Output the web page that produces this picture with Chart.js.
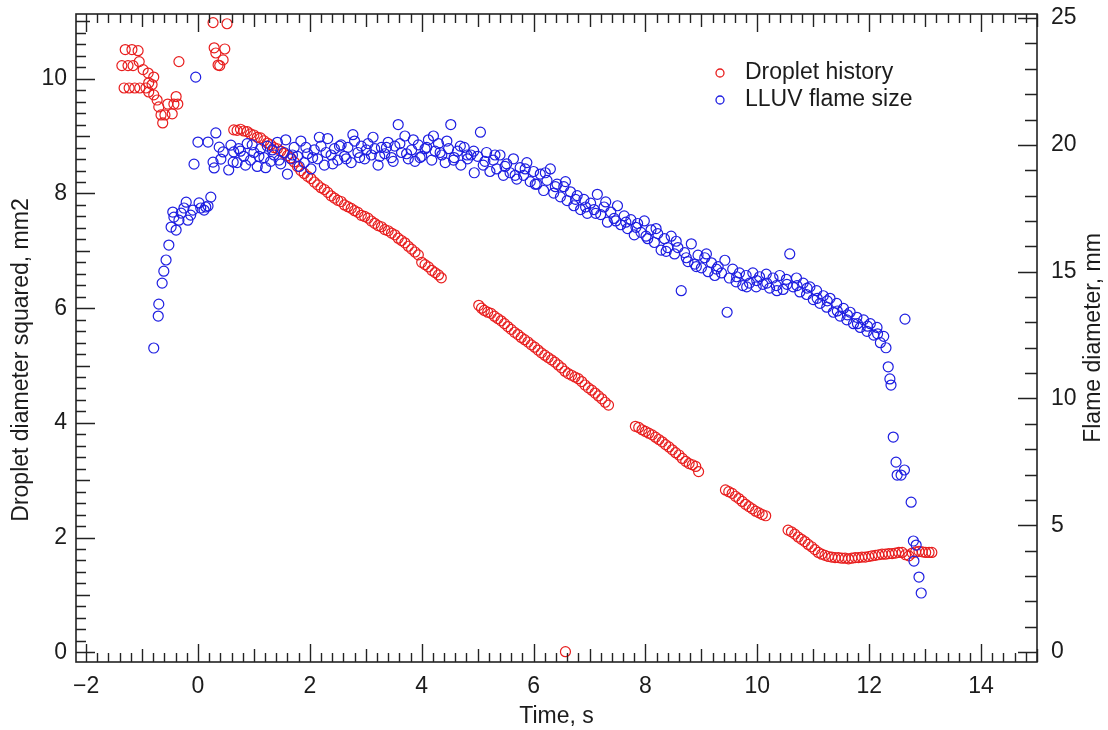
<!DOCTYPE html>
<html lang="en">
<head>
<meta charset="UTF-8">
<title>Droplet history and LLUV flame size</title>
<script src="https://cdn.jsdelivr.net/npm/chart.js"></script>
<style>
  html, body { margin: 0; padding: 0; background: #fff; }
  #wrap { width: 1108px; height: 730px; }
</style>
</head>
<body>
<div id="wrap"><canvas id="graphCanvas" width="1108" height="730"></canvas></div>
<script>
// ---- data ----
// droplet diameter squared (mm2) vs time (s)
const dropletTime = [
  // ignition / scatter
  -1.36, -1.32, -1.30, -1.25, -1.23, -1.18, -1.16, -1.13, -1.07, -1.05,
  -1.04, -0.98, -0.93, -0.89, -0.88, -0.88, -0.82, -0.79, -0.79, -0.73,
  -0.70, -0.66, -0.63, -0.59, -0.54, -0.46, -0.43, -0.39, -0.36, -0.34,
  0.27, 0.29, 0.32, 0.36, 0.39, 0.45, 0.48, 0.52,
  // burning
  0.64, 0.70, 0.76, 0.82, 0.88, 0.94, 1.00, 1.06, 1.12, 1.18,
  1.24, 1.30, 1.36, 1.42, 1.48, 1.54, 1.60, 1.66, 1.72, 1.78,
  1.84, 1.90, 1.96, 2.02, 2.08, 2.14, 2.20, 2.26, 2.32, 2.38,
  2.44, 2.50, 2.56, 2.62, 2.68, 2.74, 2.80, 2.86, 2.92, 2.98,
  3.04, 3.10, 3.16, 3.22, 3.28, 3.34, 3.40, 3.46, 3.52, 3.58,
  3.64, 3.70, 3.76, 3.82, 3.88, 3.94, 4.00, 4.06, 4.12, 4.18,
  4.24, 4.30, 4.35,
  5.02, 5.07, 5.12, 5.18, 5.24, 5.30, 5.36, 5.42, 5.48, 5.54,
  5.60, 5.66, 5.72, 5.78, 5.84, 5.90, 5.96, 6.02, 6.08, 6.14,
  6.20, 6.26, 6.32, 6.38, 6.44, 6.50, 6.56, 6.62, 6.68, 6.74,
  6.80, 6.86, 6.92, 6.98, 7.04, 7.10, 7.16, 7.22, 7.28, 7.34,
  6.57,
  7.82, 7.88, 7.94, 8.00, 8.06, 8.12, 8.18, 8.24, 8.30, 8.36,
  8.42, 8.48, 8.54, 8.60, 8.66, 8.72, 8.78, 8.84, 8.90, 8.95,
  9.43, 9.49, 9.55, 9.61, 9.67, 9.73, 9.79, 9.85, 9.91, 9.97,
  10.03, 10.09, 10.15,
  10.55, 10.61, 10.67, 10.73, 10.79, 10.85, 10.91, 10.97, 11.03, 11.09,
  11.15, 11.21, 11.27, 11.33, 11.39, 11.45, 11.51, 11.57, 11.63, 11.69,
  11.75, 11.81, 11.87, 11.93, 11.99, 12.05, 12.11, 12.17, 12.23, 12.29,
  12.35, 12.41, 12.47, 12.53, 12.59, 12.65, 12.71, 12.77, 12.83, 12.89,
  12.95, 13.01, 13.07, 13.12
];
const dropletD2 = [
  10.23, 9.84, 10.51, 10.23, 9.84, 10.51, 10.23, 9.84, 10.49, 10.30,
  9.84, 10.16, 9.84, 10.10, 9.93, 9.77, 9.90, 10.03, 9.72, 9.63,
  9.51, 9.37, 9.23, 9.37, 9.56, 9.39, 9.56, 9.69, 9.56, 10.30,
  10.98, 10.54, 10.45, 10.24, 10.23, 10.33, 10.52, 10.96,
  9.11, 9.10, 9.12, 9.09, 9.08, 9.04, 9.02, 8.98, 8.97, 8.92,
  8.88, 8.85, 8.80, 8.78, 8.74, 8.70, 8.66, 8.62, 8.55, 8.47,
  8.40, 8.35, 8.30, 8.26, 8.20, 8.15, 8.10, 8.07, 8.02, 7.96,
  7.92, 7.88, 7.86, 7.80, 7.77, 7.74, 7.70, 7.67, 7.62, 7.60,
  7.57, 7.52, 7.48, 7.44, 7.42, 7.37, 7.35, 7.31, 7.28, 7.22,
  7.18, 7.14, 7.08, 7.03, 6.98, 6.93, 6.80, 6.76, 6.72, 6.66,
  6.62, 6.58, 6.53,
  6.05, 6.00, 5.96, 5.93, 5.91, 5.86, 5.82, 5.78, 5.73, 5.68,
  5.63, 5.58, 5.54, 5.49, 5.45, 5.41, 5.36, 5.32, 5.27, 5.22,
  5.18, 5.14, 5.10, 5.06, 5.01, 4.96, 4.90, 4.86, 4.83, 4.80,
  4.77, 4.72, 4.66, 4.61, 4.57, 4.52, 4.47, 4.42, 4.36, 4.31,
  0.01,
  3.94, 3.92, 3.88, 3.85, 3.82, 3.79, 3.75, 3.71, 3.67, 3.62,
  3.58, 3.53, 3.48, 3.44, 3.38, 3.33, 3.29, 3.27, 3.24, 3.15,
  2.83, 2.80, 2.77, 2.72, 2.68, 2.63, 2.58, 2.54, 2.50, 2.46,
  2.43, 2.40, 2.38,
  2.13, 2.10, 2.06, 2.01, 1.97, 1.93, 1.88, 1.84, 1.79, 1.74,
  1.71, 1.69, 1.67, 1.66, 1.65, 1.65, 1.64, 1.64, 1.63, 1.64,
  1.65, 1.65, 1.66, 1.66, 1.67, 1.68, 1.69, 1.70, 1.71, 1.71,
  1.72, 1.72, 1.73, 1.74, 1.74, 1.70, 1.68, 1.73, 1.75, 1.76,
  1.75, 1.74, 1.74, 1.74
];

// LLUV flame diameter (mm) vs time (s)
const flameTime = [
  -0.79, -0.71, -0.70, -0.64, -0.61, -0.57, -0.52, -0.48, -0.45, -0.43,
  -0.39, -0.34, -0.30, -0.25, -0.21, -0.18, -0.13, -0.09, -0.07, -0.04,
  0.00, 0.02, 0.05, 0.11, 0.14, 0.18, 0.18, 0.23, 0.27, 0.29,
  0.32, 0.38, 0.41, 0.45, 0.55, 0.59, 0.63, 0.64,
  0.70, 0.76, 0.82, 0.88, 0.94, 1.00, 1.06, 1.12, 1.18, 1.24,
  1.30, 1.36, 1.42, 1.48, 1.54, 1.60, 1.66, 1.72, 1.78, 1.84,
  1.90, 1.96, 2.02, 2.08, 2.14, 2.20, 2.26, 2.32, 2.38, 2.44,
  2.50, 2.56, 2.62, 2.68, 2.74, 2.80, 2.86, 2.92, 2.98, 3.04,
  3.10, 3.16, 3.22, 3.28, 3.34, 3.40, 3.46, 3.52, 3.58, 3.64,
  3.70, 3.76, 3.82, 3.88, 3.94, 4.00, 4.06, 4.12, 4.18, 4.24,
  4.30, 4.36, 4.42, 4.48, 4.52, 4.58, 4.64, 4.70, 4.76, 4.82,
  4.88, 4.94, 5.00, 5.05, 5.10, 5.16, 5.22, 5.28, 5.34, 5.40,
  5.46, 5.52, 5.58, 5.64, 5.70, 5.76, 5.82, 5.88, 5.94, 6.00,
  6.06, 6.12, 6.18, 6.24, 6.30, 6.36, 6.42, 6.48, 6.54, 6.60,
  6.66, 6.72, 6.78, 6.84, 6.90, 6.96, 7.02, 7.08, 7.14, 7.20,
  7.26, 7.32, 7.38, 7.44, 7.50, 7.56, 7.62, 7.68, 7.74, 7.80,
  7.86, 7.92, 7.98, 8.04, 8.10, 8.16, 8.22, 8.28, 8.34, 8.40,
  8.46, 8.52, 8.58, 8.64, 8.70, 8.76, 8.82, 8.88, 8.94, 9.00,
  9.06, 9.12, 9.18, 9.24, 9.30, 9.36, 9.42, 9.46, 9.50, 9.56,
  9.62, 9.68, 9.74, 9.80, 9.86, 9.92, 9.98, 10.04, 10.10, 10.16,
  10.22, 10.28, 10.34, 10.40, 10.46, 10.52, 10.58, 10.64, 10.70, 10.76,
  10.82, 10.88, 10.94, 11.00, 11.06, 11.12, 11.18, 11.24, 11.30, 11.36,
  11.42, 11.48, 11.54, 11.60, 11.66, 11.72, 11.78, 11.84, 11.90, 11.96,
  12.02, 12.08, 12.14, 12.20, 12.26, 12.30,
  0.73, 0.85, 0.97, 1.09, 1.21, 1.33, 1.45, 1.57, 1.69, 1.81,
  1.93, 2.05, 2.17, 2.29, 2.41, 2.53, 2.65, 2.77, 2.89, 3.01,
  3.13, 3.25, 3.37, 3.49, 3.61, 3.73, 3.85, 3.97, 4.09, 4.21,
  4.33, 4.45, 4.57, 4.69, 4.81, 4.93, 5.13, 5.31, 5.49, 5.67,
  5.85, 6.03, 6.21, 6.39, 6.57, 6.75, 6.93, 7.11, 7.29, 7.47,
  7.65, 7.83, 8.01, 8.19, 8.37, 8.55, 8.73, 8.91, 9.09, 9.27,
  9.63, 9.81, 9.99, 10.17, 10.35, 10.53, 10.71, 10.89, 11.07, 11.25,
  11.43, 11.61, 11.79, 11.97, 12.15,
  // extinction
  12.34, 12.37, 12.39, 12.43, 12.48, 12.50, 12.57, 12.63, 12.64, 12.75,
  12.79, 12.84, 12.80, 12.89, 12.93
];
const flameDiam = [
  11.99, 13.25, 13.72, 14.55, 15.02, 15.46, 16.05, 16.76, 17.35, 17.15,
  16.64, 17.03, 17.31, 17.51, 17.74, 17.03, 17.23, 17.43, 19.24, 22.67,
  20.11, 17.71, 17.51, 17.43, 17.55, 17.59, 20.11, 17.94, 19.32, 19.09,
  20.47, 19.91, 19.44, 19.72, 19.01, 19.99, 19.32, 19.72,
  19.30, 19.75, 19.55, 20.05, 19.40, 19.70, 19.15, 19.85, 19.50, 19.95,
  19.35, 19.60, 20.10, 19.25, 19.70, 18.85, 19.45, 19.90, 19.55, 20.15,
  19.30, 19.65, 19.05, 19.80, 19.45, 19.95, 19.20, 20.25, 19.60, 19.85,
  19.40, 20.00, 19.55, 19.90, 19.30, 20.15, 19.70, 19.95, 19.45, 20.05,
  19.60, 19.85, 19.20, 19.90, 19.65, 20.10, 19.50, 19.95, 20.80, 19.70,
  20.35, 19.45, 19.80, 19.35, 20.00, 19.55, 19.85, 20.20, 19.40, 19.75,
  20.05, 19.60, 19.30, 19.85, 20.80, 19.50, 19.75, 19.20, 19.90, 19.45,
  19.60, 18.90, 19.55, 20.50, 19.20, 19.70, 18.95, 19.40, 19.05, 19.60,
  18.80, 19.25, 18.90, 19.45, 18.65, 19.10, 18.80, 19.30, 18.55, 18.95,
  18.45, 18.85, 18.20, 18.60, 19.05, 18.10, 18.45, 17.95, 18.35, 17.80,
  18.15, 17.60, 18.00, 17.45, 17.85, 17.30, 17.70, 17.45, 18.05, 17.25,
  17.55, 16.95, 17.35, 17.10, 17.60, 16.85, 17.20, 16.70, 17.05, 16.45,
  16.90, 16.55, 17.00, 16.30, 16.65, 16.15, 16.50, 15.85, 16.30, 15.95,
  16.40, 15.70, 15.95, 14.25, 15.75, 15.40, 16.10, 15.30, 15.65, 15.15,
  15.55, 15.00, 15.35, 14.85, 15.20, 14.95, 15.45, 13.40, 14.75, 15.10,
  14.60, 14.95, 14.45, 14.85, 14.55, 14.95, 14.40, 14.80, 14.50, 14.90,
  14.35, 14.75, 14.45, 14.85, 14.30, 14.70, 15.70, 14.40, 14.75, 14.20,
  14.55, 14.10, 14.40, 13.90, 14.25, 13.75, 14.05, 13.60, 13.95, 13.40,
  13.75, 13.25, 13.55, 13.10, 13.40, 12.95, 13.20, 12.80, 13.10, 12.65,
  12.95, 12.50, 12.80, 12.20, 12.45, 12.00,
  19.85, 19.20, 20.00, 19.55, 19.10, 19.80, 19.40, 20.20, 19.60, 19.15,
  19.90, 19.50, 20.30, 19.70, 19.25, 19.95, 19.45, 20.40, 19.50, 19.80,
  20.30, 19.55, 19.90, 19.35, 20.05, 19.65, 20.20, 19.50, 19.90, 20.35,
  19.70, 20.15, 19.40, 19.95, 19.60, 19.75, 19.35, 19.60, 19.15, 18.80,
  19.05, 18.45, 18.90, 18.35, 18.55, 17.85, 17.55, 17.30, 17.75, 17.00,
  16.95, 16.75, 16.40, 16.70, 15.80, 16.20, 15.55, 15.20, 15.70, 15.10,
  14.80, 14.40, 14.65, 14.55, 14.25, 14.50, 14.45, 14.35, 13.95, 13.85,
  13.45, 13.30, 12.95, 12.85, 12.55,
  11.25, 10.77, 10.53, 8.48, 7.49, 6.98, 6.98, 7.18, 13.13, 5.91,
  4.38, 4.22, 3.59, 2.96, 2.33
];

const timeTicks = [-2, 0, 2, 4, 6, 8, 10, 12, 14];
const d2Ticks = [0, 2, 4, 6, 8, 10];
const flameTicks = [0, 5, 10, 15, 20, 25];

// ---- styling ----
const RED = 'rgb(232, 30, 30)';
const BLUE = 'rgb(30, 30, 225)';
const INK = '#1c1c1c';
const FONT_FAMILY = '"Liberation Sans", Arial, Helvetica, sans-serif';
const tickFont = { family: FONT_FAMILY, size: 23 };

function pairUp(xs, ys) {
  const n = Math.min(xs.length, ys.length);
  const out = [];
  for (let i = 0; i < n; i++) out.push({ x: xs[i], y: ys[i] });
  return out;
}

function fixedTicks(values) {
  return scale => { scale.ticks = values.map(v => ({ value: v })); };
}

// fixed box sizes so the plot area sits where the original one does
function fitBox(size) {
  return s => {
    if (s.isHorizontal()) s.height = size; else s.width = size;
    s.paddingTop = 0; s.paddingBottom = 0; s.paddingLeft = 0; s.paddingRight = 0;
  };
}

// inward tick marks on all four sides + frame box
const frameTicks = {
  id: 'frameTicks',
  afterDraw(chart) {
    const { ctx, chartArea: a, scales } = chart;
    ctx.save();
    ctx.strokeStyle = '#222';
    ctx.lineWidth = 1.4;
    ctx.beginPath();
    const sx = scales.x;
    for (let k = Math.ceil(sx.min * 5); k <= Math.floor(sx.max * 5 + 1e-6); k++) {
      const px = Math.round(sx.getPixelForValue(k / 5)) + 0.5;
      const len = k % 10 === 0 ? 18 : (k % 5 === 0 ? 13 : 9);
      ctx.moveTo(px, a.bottom); ctx.lineTo(px, a.bottom - len);
      ctx.moveTo(px, a.top); ctx.lineTo(px, a.top + len);
    }
    const sy = scales.y;
    for (let k = Math.ceil(sy.min * 5); k <= Math.floor(sy.max * 5 + 1e-6); k++) {
      const py = Math.round(sy.getPixelForValue(k / 5)) + 0.5;
      const len = k % 10 === 0 ? 19 : (k % 5 === 0 ? 14 : 10);
      ctx.moveTo(a.left, py); ctx.lineTo(a.left + len, py);
    }
    const sy2 = scales.y2;
    for (let k = Math.ceil(sy2.min); k <= Math.floor(sy2.max + 1e-6); k++) {
      const py = Math.round(sy2.getPixelForValue(k)) + 0.5;
      const len = k % 5 === 0 ? 19 : 12;
      ctx.moveTo(a.right, py); ctx.lineTo(a.right - len, py);
    }
    ctx.stroke();
    ctx.lineWidth = 1.6;
    ctx.strokeRect(a.left, a.top, a.right - a.left, a.bottom - a.top);
    ctx.restore();
  }
};

// side titles read bottom-to-top on both sides, plus the legend
const annotations = {
  id: 'annotations',
  afterDraw(chart) {
    const { ctx, chartArea: a } = chart;
    const midY = (a.top + a.bottom) / 2;
    ctx.save();
    ctx.fillStyle = INK;
    ctx.font = '23px ' + FONT_FAMILY;
    ctx.textAlign = 'center';
    ctx.textBaseline = 'middle';
    [['Droplet diameter squared, mm2', 22, midY + 22], ['Flame diameter, mm', 1094, midY]].forEach(([text, x, y]) => {
      ctx.save();
      ctx.translate(x, y);
      ctx.rotate(-Math.PI / 2);
      ctx.fillText(text, 0, 0);
      ctx.restore();
    });
    ctx.textAlign = 'left';
    chart.data.datasets.forEach((ds, i) => {
      const y = 73 + i * 27;
      ctx.beginPath();
      ctx.arc(720, y, 4, 0, Math.PI * 2);
      ctx.strokeStyle = ds.borderColor;
      ctx.lineWidth = 1.3;
      ctx.stroke();
      ctx.fillText(ds.label, 745, y);
    });
    ctx.restore();
  }
};

const ctx = document.getElementById('graphCanvas').getContext('2d');
const chart = new Chart(ctx, {
  type: 'scatter',
  data: {
    datasets: [
      {
        label: 'Droplet history',
        data: pairUp(dropletTime, dropletD2),
        yAxisID: 'y',
        borderColor: RED,
        backgroundColor: 'rgba(0,0,0,0)',
        pointRadius: 5,
        pointBorderWidth: 1.2,
        order: 1
      },
      {
        label: 'LLUV flame size',
        data: pairUp(flameTime, flameDiam),
        yAxisID: 'y2',
        borderColor: BLUE,
        backgroundColor: 'rgba(0,0,0,0)',
        pointRadius: 5,
        pointBorderWidth: 1.2,
        order: 0
      }
    ]
  },
  options: {
    responsive: false,
    animation: false,
    layout: { padding: { top: 14, left: 0, right: 0, bottom: 0 } },
    plugins: {
      legend: { display: false },
      tooltip: { enabled: false }
    },
    scales: {
      x: {
        type: 'linear',
        position: 'bottom',
        min: -2.18,
        max: 15,
        grid: { display: false, drawTicks: false },
        border: { display: false },
        afterBuildTicks: fixedTicks(timeTicks),
        ticks: {
          padding: 11,
          color: INK,
          font: tickFont,
          callback: v => String(v).replace('-', '\u2212')
        },
        title: {
          display: true,
          text: 'Time, s',
          color: INK,
          font: { family: FONT_FAMILY, size: 23 },
          padding: { top: 0, bottom: 0 }
        },
        afterFit: fitBox(68)
      },
      y: {
        type: 'linear',
        position: 'left',
        min: -0.17,
        max: 11.13,
        grid: { display: false, drawTicks: false },
        border: { display: false },
        afterBuildTicks: fixedTicks(d2Ticks),
        ticks: { padding: 9, color: INK, font: tickFont },
        afterFit: fitBox(76)
      },
      y2: {
        type: 'linear',
        position: 'right',
        min: -0.39,
        max: 25.16,
        grid: { display: false, drawTicks: false },
        border: { display: false },
        afterBuildTicks: fixedTicks(flameTicks),
        ticks: { padding: 14, color: INK, font: tickFont },
        afterFit: fitBox(71)
      }
    }
  },
  plugins: [frameTicks, annotations]
});
</script>
</body>
</html>
